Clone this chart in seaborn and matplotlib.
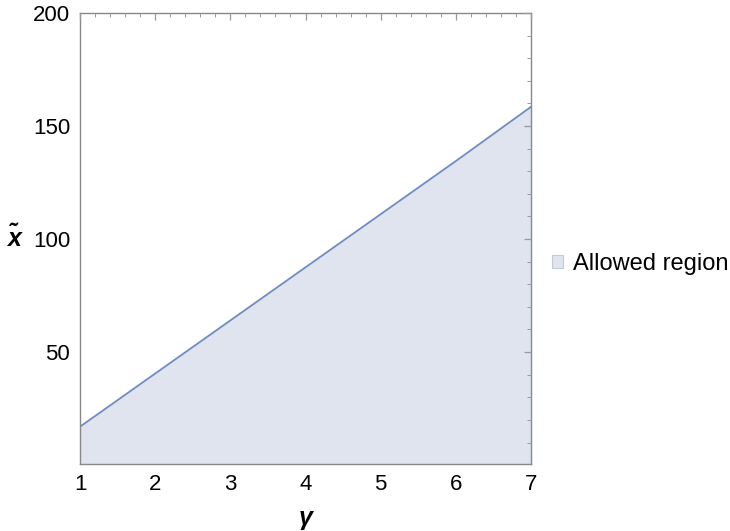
import matplotlib
matplotlib.use("Agg")
import matplotlib.pyplot as plt
import seaborn as sns
import pandas as pd
from matplotlib.ticker import MultipleLocator
from matplotlib.patches import Patch

gamma = [1, 2, 3, 4, 5, 6, 7]
xtilde = [17.0, 40.5, 64.0, 87.5, 111.0, 134.5, 158.5]
legend_label = "Allowed region"

sns.set_style("white")
plt.rcParams['font.family'] = ['Liberation Sans', 'DejaVu Sans']
plt.rcParams['text.color'] = 'black'
plt.rcParams['axes.labelcolor'] = 'black'
plt.rcParams['xtick.color'] = 'black'
plt.rcParams['ytick.color'] = 'black'

df = pd.DataFrame({"gamma": gamma, "xtilde": xtilde})

fig = plt.figure(figsize=(7.30, 5.31), dpi=100)
ax = fig.add_axes([80/730, 1 - 464/531, 451/730, 451/531])
ax.set_axisbelow(False)

line_c = "#6e8cc0"
fill_c = "#dfe4ef"
ax.fill_between(df["gamma"], 0, df["xtilde"], color=fill_c, lw=0, zorder=1)
sns.lineplot(data=df, x="gamma", y="xtilde", ax=ax, color=line_c, lw=1.3, zorder=2)

ax.set_xlim(1, 7)
ax.set_ylim(0.5, 200)
ax.xaxis.set_major_locator(MultipleLocator(1))
ax.xaxis.set_minor_locator(MultipleLocator(0.2))
ax.yaxis.set_major_locator(MultipleLocator(50))
ax.yaxis.set_minor_locator(MultipleLocator(10))
ax.set_yticks([50, 100, 150, 200])

ax.tick_params(which="both", direction="in", top=True, right=True,
               color="#999999", labelcolor="black", labelsize=16, pad=7)
ax.tick_params(which="major", length=5, width=0.9)
ax.tick_params(which="minor", length=3, width=0.7)
ax.tick_params(axis="x", labeltop=False)
ax.tick_params(axis="y", labelright=False)
for s in ax.spines.values():
    s.set_color("#888888")
    s.set_linewidth(1.0)

ax.set_xlabel("γ", fontsize=18, fontweight="bold", fontstyle="italic", labelpad=8)
ax.set_ylabel("x̃", fontsize=18, fontweight="bold", fontstyle="italic",
              rotation=0, labelpad=14, va="center")

handle = Patch(facecolor=fill_c, edgecolor="#c2cadc", lw=0.8)
fig.legend([handle], [legend_label], loc="center left",
           bbox_to_anchor=(531/730, 1 - 264/531), frameon=False, fontsize=17,
           handlelength=0.45, handleheight=0.45, handletextpad=0.42)

fig.savefig("out.png", dpi=100)
